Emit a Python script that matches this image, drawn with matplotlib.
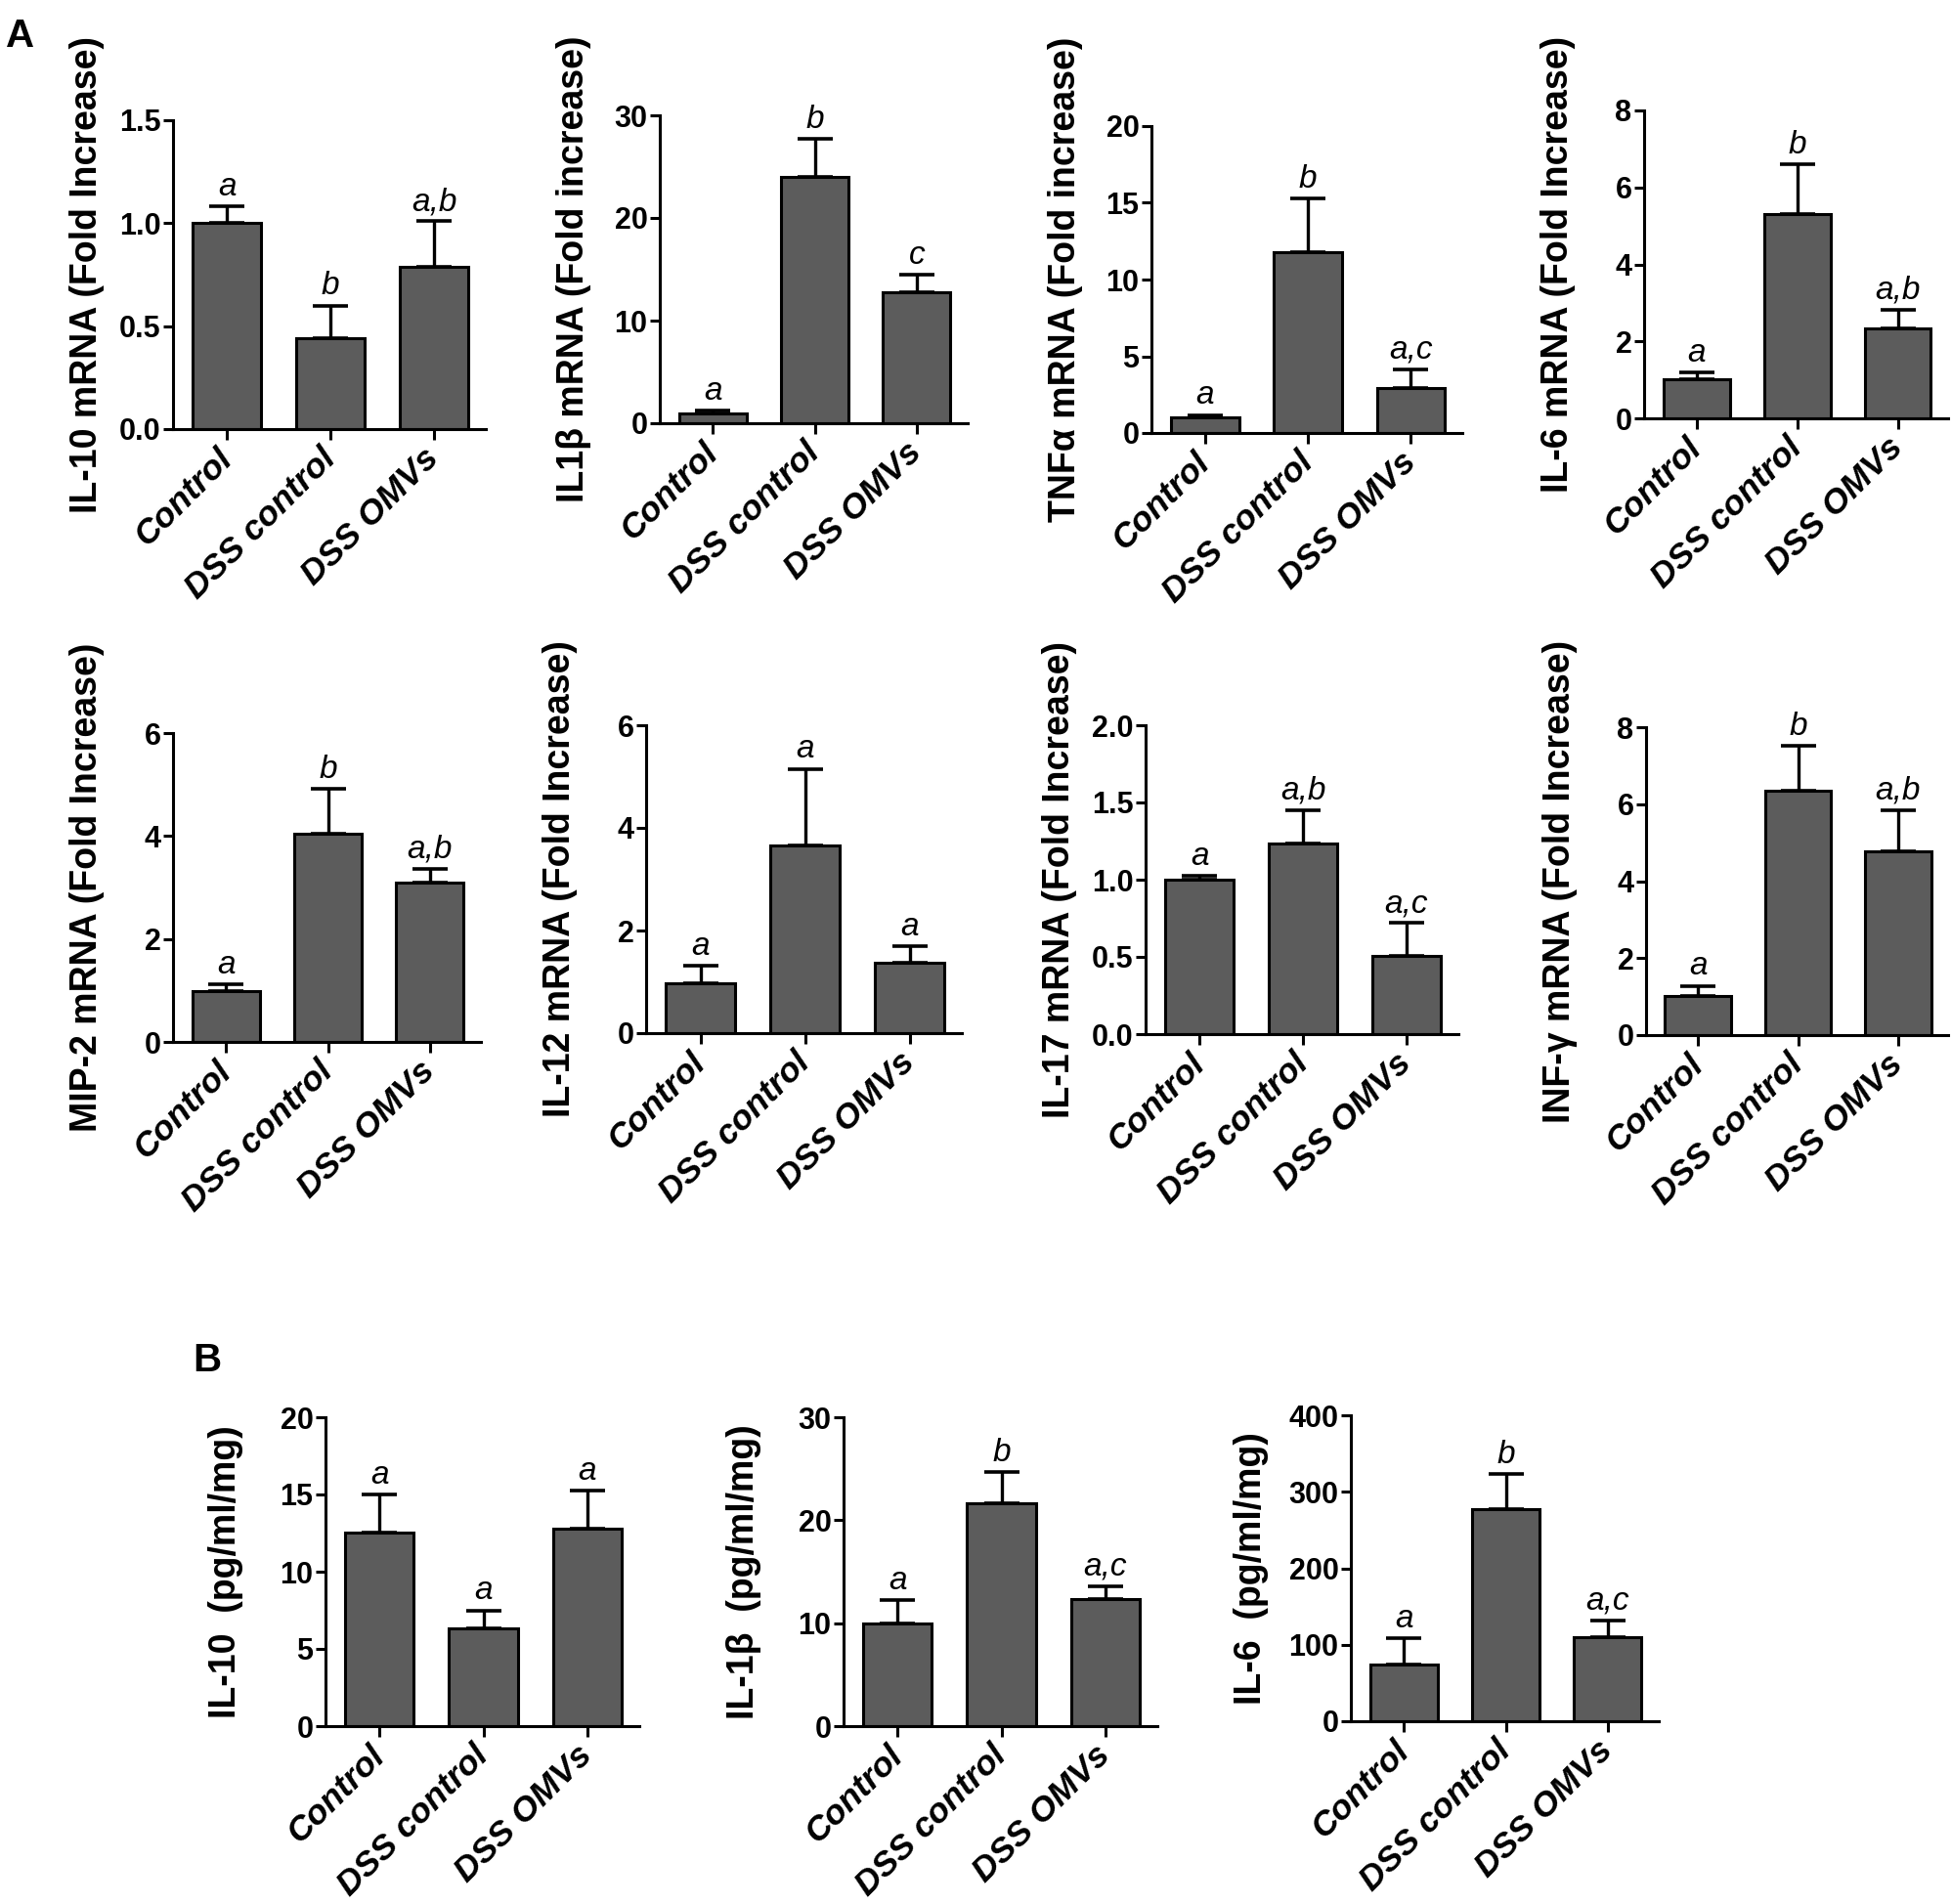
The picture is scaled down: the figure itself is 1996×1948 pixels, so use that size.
import numpy as np
import matplotlib
matplotlib.use("Agg")
import matplotlib.pyplot as plt
import matplotlib.transforms as mtransforms

plt.rcParams['font.family'] = ['Liberation Sans', 'DejaVu Sans']

# ==================================================
# DATA (mean and SEM)
# ==================================================

groups = ["Control", "DSS control", "DSS OMVs"]

il10_mrna = [1.00, 0.44, 0.79]
il10_mrna_sem = [0.08, 0.16, 0.22]

il1b_mrna = [1.0, 24.0, 12.8]
il1b_mrna_sem = [0.26, 3.7, 1.7]

tnfa_mrna = [1.02, 11.8, 2.9]
tnfa_mrna_sem = [0.15, 3.5, 1.25]

il6_mrna = [1.02, 5.3, 2.33]
il6_mrna_sem = [0.18, 1.3, 0.49]

mip2_mrna = [0.99, 4.04, 3.10]
mip2_mrna_sem = [0.13, 0.87, 0.27]

il12_mrna = [0.98, 3.66, 1.37]
il12_mrna_sem = [0.33, 1.49, 0.32]

il17_mrna = [1.00, 1.235, 0.506]
il17_mrna_sem = [0.025, 0.215, 0.214]

infg_mrna = [1.01, 6.35, 4.78]
infg_mrna_sem = [0.27, 1.17, 1.06]

il10_prot = [12.55, 6.32, 12.8]
il10_prot_sem = [2.45, 1.18, 2.46]

il1b_prot = [9.96, 21.6, 12.34]
il1b_prot_sem = [2.24, 3.05, 1.26]

il6_prot = [74, 277, 110]
il6_prot_sem = [34, 46, 22]

# significance letters
letters = [
    ["a", "b", "a,b"],
    ["a", "b", "c"],
    ["a", "b", "a,c"],
    ["a", "b", "a,b"],
    ["a", "b", "a,b"],
    ["a", "a", "a"],
    ["a", "a,b", "a,c"],
    ["a", "b", "a,b"],
    ["a", "a", "a"],
    ["a", "b", "a,c"],
    ["a", "b", "a,c"],
]

ylabels = [
    "IL-10 mRNA (Fold Increase)",
    "IL1\u03b2 mRNA (Fold increase)",
    "TNF\u03b1 mRNA (Fold increase)",
    "IL-6 mRNA (Fold Increase)",
    "MIP-2 mRNA (Fold Increase)",
    "IL-12 mRNA (Fold Increase)",
    "IL-17 mRNA (Fold Increase)",
    "INF-\u03b3 mRNA (Fold Increase)",
    "IL-10  (pg/ml/mg)",
    "IL-1\u03b2  (pg/ml/mg)",
    "IL-6  (pg/ml/mg)",
]

yticks = [
    [0.0, 0.5, 1.0, 1.5],
    [0, 10, 20, 30],
    [0, 5, 10, 15, 20],
    [0, 2, 4, 6, 8],
    [0, 2, 4, 6],
    [0, 2, 4, 6],
    [0.0, 0.5, 1.0, 1.5, 2.0],
    [0, 2, 4, 6, 8],
    [0, 5, 10, 15, 20],
    [0, 10, 20, 30],
    [0, 100, 200, 300, 400],
]

means = [il10_mrna, il1b_mrna, tnfa_mrna, il6_mrna, mip2_mrna, il12_mrna,
         il17_mrna, infg_mrna, il10_prot, il1b_prot, il6_prot]
sems = [il10_mrna_sem, il1b_mrna_sem, tnfa_mrna_sem, il6_mrna_sem,
        mip2_mrna_sem, il12_mrna_sem, il17_mrna_sem, infg_mrna_sem,
        il10_prot_sem, il1b_prot_sem, il6_prot_sem]

# ==================================================
# LAYOUT (pixel boxes: left, right, top, bottom)
# ==================================================

W, H = 1996, 1948
boxes = [
    (177, 497, 123, 439),
    (675, 990, 118, 433),
    (1178, 1496, 129, 443),
    (1682, 1993, 113, 428),
    (177, 492, 750, 1066),
    (661, 984, 742, 1057),
    (1172, 1492, 742, 1058),
    (1684, 1993, 744, 1059),
    (333, 654, 1450, 1766),
    (863, 1184, 1450, 1766),
    (1382, 1697, 1448, 1761),
]

fig = plt.figure(figsize=(W / 100, H / 100), dpi=100)
fig.patch.set_facecolor("white")

x = np.arange(3)
bar_color = "#5c5c5c"

for i in range(11):
    l, r, t, b = boxes[i]
    ax = fig.add_axes([l / W, 1 - b / H, (r - l) / W, (b - t) / H])

    m = np.array(means[i])
    s = np.array(sems[i])

    ax.bar(x, m, width=0.66, color=bar_color, edgecolor="black",
           linewidth=2.2, zorder=2)
    ax.errorbar(x, m, yerr=[np.zeros(3), s], fmt="none", ecolor="black",
                elinewidth=2.4, capsize=13, capthick=2.6, zorder=1)

    for j in range(3):
        ax.annotate(letters[i][j], (x[j], m[j] + s[j]), xytext=(0, 3),
                    textcoords="offset points", ha="center", va="bottom",
                    fontsize=24, fontstyle="italic")

    ax.set_xlim(-0.52, 2.5)
    ax.set_ylim(0, yticks[i][-1])
    ax.set_yticks(yticks[i])
    if isinstance(yticks[i][0], float):
        ax.set_yticklabels(["%.1f" % v for v in yticks[i]])
    ax.set_xticks(x)
    ax.set_xticklabels(groups, rotation=45, ha="right", va="center",
                       rotation_mode="anchor", fontsize=25.5,
                       fontweight="bold", fontstyle="italic")

    offset = mtransforms.ScaledTranslation(13 / 72, 0, fig.dpi_scale_trans)
    for lab in ax.get_xticklabels():
        lab.set_transform(lab.get_transform() + offset)

    for lab in ax.get_yticklabels():
        lab.set_fontweight("bold")
        lab.set_fontsize(22)

    ax.tick_params(axis="y", length=7, width=2.2, pad=2)
    ax.tick_params(axis="x", length=8, width=2.2, pad=10)

    for side in ["top", "right"]:
        ax.spines[side].set_visible(False)
    for side in ["left", "bottom"]:
        ax.spines[side].set_linewidth(2.2)

    ax.set_ylabel(ylabels[i], fontsize=27, fontweight="bold")
    if i < 8:
        ax.yaxis.set_label_coords(-70 / (r - l), 0.5)
    else:
        ax.yaxis.set_label_coords(-84 / (r - l), 0.5)

fig.text(6 / W, 1 - 18 / H, "A", fontsize=29, fontweight="bold",
         ha="left", va="top")
fig.text(197 / W, 1 - 1373 / H, "B", fontsize=29, fontweight="bold",
         ha="left", va="top")

plt.savefig("out.png", dpi=100, facecolor="white")
print("Saved as out.png")
